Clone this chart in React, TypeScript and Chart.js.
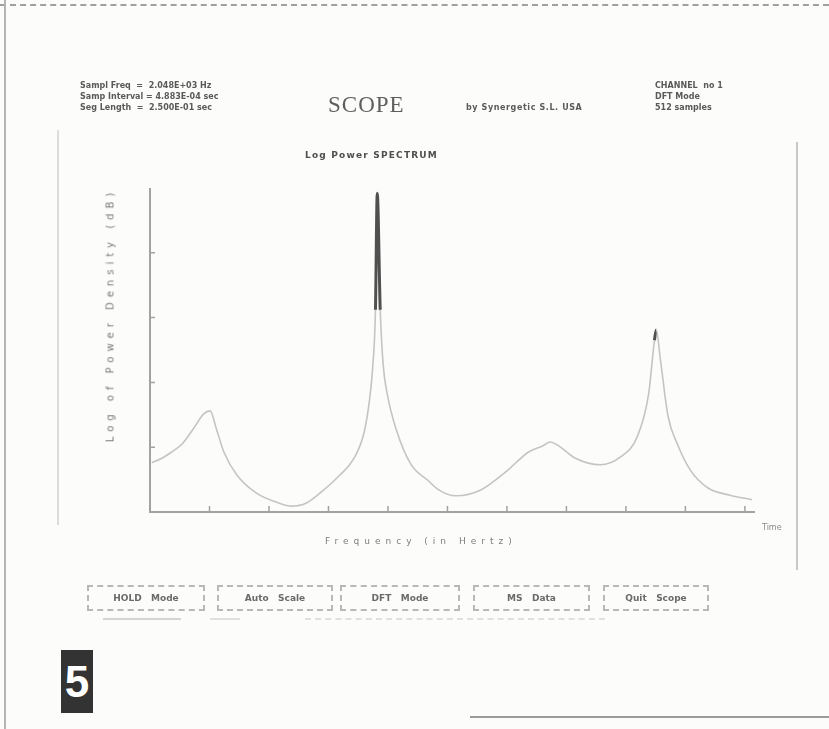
import React, { useEffect, useRef } from "react";
import { Chart, registerables } from "chart.js";

Chart.register(...registerables);

// Frequency (axis units) and log power density
const freq = [
  0.03, 0.2, 0.37, 0.54, 0.74, 0.9, 1.01, 1.12, 1.24, 1.46, 1.79, 2.16, 2.38, 2.63, 2.88,
  3.18, 3.43, 3.6, 3.69, 3.74, 3.79, 3.82, 3.87, 3.92, 3.99, 4.14, 4.39, 4.67, 4.84, 5.14,
  5.56, 5.98, 6.37, 6.6, 6.73, 6.87, 7.15, 7.57, 7.91, 8.19, 8.38, 8.48, 8.51, 8.58, 8.71,
  8.86, 9.08, 9.38, 9.75, 10.12,
];
const logPower = [
  0.76, 0.83, 0.93, 1.05, 1.3, 1.51, 1.56, 1.27, 0.93, 0.57, 0.29, 0.14, 0.09, 0.14, 0.31,
  0.56, 0.83, 1.23, 1.73, 2.19, 3.12, 4.92, 3.12, 2.27, 1.81, 1.27, 0.73, 0.49, 0.35, 0.25,
  0.34, 0.62, 0.93, 1.02, 1.08, 1.02, 0.83, 0.73, 0.85, 1.16, 1.81, 2.65, 2.81, 2.35, 1.47,
  1.06, 0.65, 0.37, 0.26, 0.19,
];
const xTicks = [1, 2, 3, 4, 5, 6, 7, 8, 9, 10];
const yTicks = [1, 2, 3, 4];
const xMax = 10.17;
const yMax = 5;

const headerLeft = [
  "Sampl Freq  =  2.048E+03 Hz",
  "Samp Interval = 4.883E-04 sec",
  "Seg Length  =  2.500E-01 sec",
];
const headerRight = ["CHANNEL  no 1", "DFT Mode", "512 samples"];
const chartTitle = "Log Power SPECTRUM";
const yTitle = "Log of Power Density (dB)";
const xTitle = "Frequency (in Hertz)";
const xEndLabel = "Time";
const buttons = ["HOLD   Mode", "Auto   Scale", "DFT   Mode", "MS   Data", "Quit   Scope"];

const smallFont = "bold 8px 'DejaVu Sans', sans-serif";

export default function App() {
  const ref = useRef<HTMLCanvasElement>(null);

  useEffect(() => {
    if (!ref.current) return;
    const axesPlugin = {
      id: "scopeAxes",
      beforeDatasetsDraw(chart: any) {
        const { ctx, scales } = chart;
        const x = scales.x;
        const y = scales.y;
        const x0 = x.getPixelForValue(0);
        const y0 = y.getPixelForValue(0);
        ctx.save();
        ctx.strokeStyle = "#a2a2a2";
        ctx.lineWidth = 2;
        ctx.beginPath();
        ctx.moveTo(x0, y.getPixelForValue(yMax));
        ctx.lineTo(x0, y0);
        ctx.lineTo(x.getPixelForValue(xMax), y0);
        ctx.stroke();
        ctx.lineWidth = 1.5;
        ctx.beginPath();
        for (const v of xTicks) {
          const px = x.getPixelForValue(v);
          ctx.moveTo(px, y0);
          ctx.lineTo(px, y0 - 6);
        }
        for (const v of yTicks) {
          const py = y.getPixelForValue(v);
          ctx.moveTo(x0, py);
          ctx.lineTo(x0 + 5, py);
        }
        ctx.stroke();
        ctx.restore();
      },
    };

    const chart = new Chart(ref.current, {
      type: "line",
      data: {
        datasets: [
          {
            data: freq.map((f, i) => ({ x: f, y: logPower[i] })),
            borderColor: "#c4c4c4",
            borderWidth: 1.6,
            pointRadius: 0,
            cubicInterpolationMode: "monotone",
            segment: {
              borderColor: (c: any) =>
                Math.min(c.p0.parsed.y, c.p1.parsed.y) > 2.5 ? "#505050" : undefined,
              borderWidth: (c: any) =>
                Math.min(c.p0.parsed.y, c.p1.parsed.y) > 2.5 ? 3 : undefined,
            },
          },
        ],
      },
      options: {
        responsive: false,
        animation: false,
        layout: { padding: { left: 150, top: 188, right: 74, bottom: 217 } },
        plugins: { legend: { display: false }, tooltip: { enabled: false } },
        scales: {
          x: { type: "linear", min: 0, max: xMax, display: false },
          y: { type: "linear", min: 0, max: yMax, display: false },
        },
      },
      plugins: [axesPlugin],
    } as any);
    return () => chart.destroy();
  }, []);

  const txt = (
    s: string,
    left: number,
    top: number,
    extra: React.CSSProperties = {}
  ) => (
    <div
      key={s + left + top}
      style={{
        position: "absolute",
        left,
        top,
        font: smallFont,
        color: "#5a5a5a",
        whiteSpace: "pre",
        lineHeight: "10px",
        ...extra,
      }}
    >
      {s}
    </div>
  );

  const btnBoxes = [
    [87, 118],
    [217, 116],
    [340, 120],
    [473, 117],
    [603, 106],
  ];

  return (
    <div
      style={{
        position: "absolute",
        left: 0,
        top: 0,
        width: 829,
        height: 729,
        background: "#fcfcfb",
        overflow: "hidden",
      }}
    >
      {/* scan frame lines */}
      <div style={{ position: "absolute", left: 0, top: 4, width: 829, borderTop: "2px dashed #a0a0a0" }} />
      <div style={{ position: "absolute", left: 4, top: 0, height: 729, borderLeft: "2px solid #b5b5b5" }} />
      <div style={{ position: "absolute", left: 470, top: 716, width: 359, borderTop: "2px solid #9a9a9a" }} />
      <div style={{ position: "absolute", left: 57, top: 130, height: 395, borderLeft: "2px solid #dcdcdc" }} />
      <div style={{ position: "absolute", left: 796, top: 142, height: 428, borderLeft: "2px solid #c8c8c8" }} />

      <canvas
        ref={ref}
        width={829}
        height={729}
        style={{ position: "absolute", left: 0, top: 0 }}
      />

      {headerLeft.map((s, i) => txt(s, 80, 81 + i * 11))}
      {headerRight.map((s, i) => txt(s, 655, 81 + i * 11))}
      <div
        style={{
          position: "absolute",
          left: 328,
          top: 92,
          font: "23px 'Liberation Serif', serif",
          color: "#5e5e5e",
          letterSpacing: "1px",
          lineHeight: "26px",
        }}
      >
        SCOPE
      </div>
      {txt("by Synergetic S.L. USA", 466, 103, { letterSpacing: "0.6px" })}
      {txt(chartTitle, 305, 150, { font: "bold 9px 'DejaVu Sans', sans-serif", letterSpacing: "1.2px", color: "#4e4e4e" })}

      <div
        style={{
          position: "absolute",
          left: 110,
          top: 315,
          transform: "translate(-50%, -50%) rotate(-90deg)",
          font: "10px 'DejaVu Sans', sans-serif",
          color: "#7a7a7a",
          letterSpacing: "5px",
          whiteSpace: "pre",
        }}
      >
        {yTitle}
      </div>
      {txt(xTitle, 325, 536, { font: "9px 'DejaVu Sans', sans-serif", color: "#7e7e7e", letterSpacing: "5px" })}
      {txt(xEndLabel, 762, 523, { font: "8px 'DejaVu Sans', sans-serif", color: "#8a8a8a" })}

      {buttons.map((b, i) => (
        <div
          key={b}
          style={{
            position: "absolute",
            left: btnBoxes[i][0],
            top: 585,
            width: btnBoxes[i][1],
            height: 26,
            boxSizing: "border-box",
            border: "2px dashed #b8b8b8",
            font: "bold 9px 'DejaVu Sans', sans-serif",
            color: "#6a6a6a",
            whiteSpace: "pre",
            display: "flex",
            alignItems: "center",
            justifyContent: "center",
          }}
        >
          {b}
        </div>
      ))}
      <div style={{ position: "absolute", left: 103, top: 618, width: 78, borderTop: "2px solid #d4d4d4" }} />
      <div style={{ position: "absolute", left: 210, top: 618, width: 30, borderTop: "2px solid #e0e0e0" }} />
      <div style={{ position: "absolute", left: 305, top: 618, width: 300, borderTop: "2px dashed #e0e0e0" }} />

      <div
        style={{
          position: "absolute",
          left: 61,
          top: 650,
          width: 32,
          height: 63,
          background: "#333333",
          color: "#ffffff",
          font: "bold 44px 'Liberation Sans Narrow', 'Liberation Sans', Arial, sans-serif",
          display: "flex",
          alignItems: "center",
          justifyContent: "center",
        }}
      >
        5
      </div>
    </div>
  );
}
